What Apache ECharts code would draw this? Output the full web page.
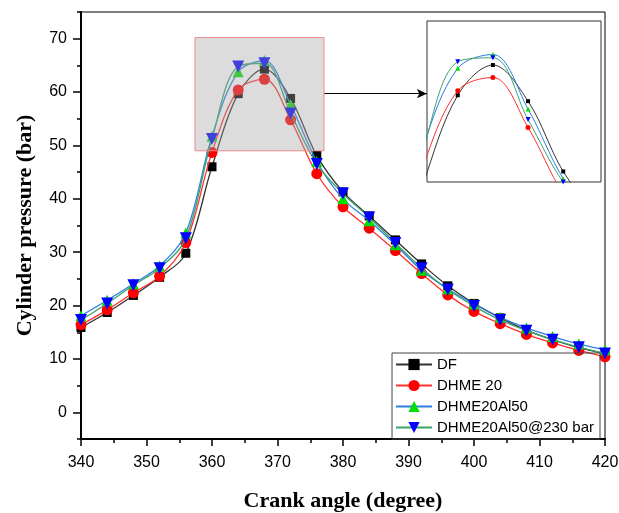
<!DOCTYPE html>
<html>
<head>
<meta charset="utf-8">
<script src="https://cdn.jsdelivr.net/npm/echarts@6/dist/echarts.min.js"></script>
<style>
  html, body { margin: 0; padding: 0; background: #fff; }
  #chart { width: 619px; height: 513px; }
</style>
</head>
<body>
<div id="chart"></div>
<script>
// Crank angle (degree) at which each pressure sample is marked
const crankAngle = [340, 344, 348, 352, 356, 360, 364, 368, 372, 376, 380,
                    384, 388, 392, 396, 400, 404, 408, 412, 416, 420];

// Cylinder pressure (bar) for each fuel
const pressureDF = [15.9, 18.7, 21.9, 25.3, 29.8, 46.0, 59.7, 64.3, 58.8, 48.1, 41.3,
                    36.8, 32.3, 27.8, 23.7, 20.4, 17.7, 15.4, 13.6, 12.1, 11.0];
const pressureDHME20 = [16.4, 19.2, 22.4, 25.5, 31.8, 48.7, 60.4, 62.4, 54.8, 44.7, 38.5,
                        34.5, 30.3, 26.0, 22.0, 18.9, 16.6, 14.6, 13.0, 11.6, 10.4];
const pressureAl50 = [18.1, 21.0, 24.1, 27.4, 33.6, 51.7, 63.8, 65.9, 57.6, 47.0, 40.0,
                      35.9, 31.4, 26.6, 23.1, 20.3, 17.8, 15.8, 14.2, 12.8, 11.7];
const pressureAl50At230 = [17.3, 20.4, 23.8, 27.0, 32.6, 51.2, 64.8, 65.4, 56.0, 46.5, 41.0,
                           36.5, 31.7, 27.0, 23.0, 19.9, 17.3, 15.3, 13.6, 12.2, 11.0];

const seriesNames = ['DF', 'DHME 20', 'DHME20Al50', 'DHME20Al50@230 bar'];

// y-axis labelled ticks and the in-between ticks
const yMajorTicks = [0, 10, 20, 30, 40, 50, 60, 70];
const yMinorTicks = [-5, 5, 15, 25, 35, 45, 55, 65, 75];

const pairs = arr => crankAngle.map((a, i) => [a, arr[i]]);

const DOWN_TRIANGLE = 'path://M0,0 L10,0 L5,9 Z';

const styles = [
  { line: '#333333', mark: '#000000', symbol: 'rect',     size: 9,  inset: 4 },
  { line: '#ff3030', mark: '#ff0000', symbol: 'circle',   size: 11, inset: 5 },
  { line: '#2c7fe0', mark: '#00e000', symbol: 'triangle', size: 11, inset: 5 },
  { line: '#3ba26c', mark: '#0000ff', symbol: DOWN_TRIANGLE, size: 12, inset: 5 }
];
const values = [pressureDF, pressureDHME20, pressureAl50, pressureAl50At230];

const mainSeries = values.map((v, i) => ({
  name: seriesNames[i],
  type: 'line',
  xAxisIndex: 0,
  yAxisIndex: 0,
  data: pairs(v),
  smooth: 0.35,
  symbol: styles[i].symbol,
  symbolSize: styles[i].size,
  showAllSymbol: true,
  lineStyle: { color: styles[i].line, width: 1.3 },
  itemStyle: { color: styles[i].mark, borderWidth: 0 },
  color: styles[i].line,
  z: 2 + i * 0.1,
  animation: false
}));

const insetSeries = values.map((v, i) => ({
  name: seriesNames[i],
  type: 'line',
  xAxisIndex: 1,
  yAxisIndex: 2,
  data: pairs(v),
  smooth: 0.35,
  clip: true,
  symbol: styles[i].symbol,
  symbolSize: styles[i].inset,
  showAllSymbol: true,
  lineStyle: { color: styles[i].line, width: 1 },
  itemStyle: { color: styles[i].mark, borderWidth: 0 },
  z: 6,
  animation: false
}));

// arrow from the zoom window to the enlarged view
mainSeries[0].markLine = {
  silent: true,
  symbol: ['none', 'arrow'],
  symbolSize: [7, 10],
  label: { show: false },
  lineStyle: { color: '#000', width: 1, type: 'solid' },
  data: [[{ coord: [377.1, 59.7] }, { coord: [392.8, 59.7] }]],
  animation: false
};

// translucent window laid over the peak region
const zoomWindow = {
  type: 'custom',
  xAxisIndex: 0,
  yAxisIndex: 0,
  silent: true,
  z: 5,
  data: [[357.4, 49.0, 377.1, 70.2]],
  renderItem: (params, api) => {
    const p0 = api.coord([api.value(0), api.value(3)]);
    const p1 = api.coord([api.value(2), api.value(1)]);
    return {
      type: 'rect',
      shape: { x: p0[0], y: p0[1], width: p1[0] - p0[0], height: p1[1] - p0[1] },
      style: { fill: 'rgba(165,165,165,0.39)', stroke: '#f08a8a', lineWidth: 1 }
    };
  },
  animation: false
};

const sans = "'Liberation Sans', Arial, sans-serif";
const serif = "'Liberation Serif', 'Times New Roman', serif";

const chart = echarts.init(document.getElementById('chart'), null, { renderer: 'canvas' });
chart.setOption({
  backgroundColor: '#fff',
  animation: false,
  grid: [
    { left: 81, right: 14, top: 12, bottom: 74, outerBoundsMode: 'none', containLabel: false,
      show: true, borderColor: '#000', borderWidth: 1, backgroundColor: 'transparent' },
    { left: 427, top: 21, width: 174, height: 161, outerBoundsMode: 'none', containLabel: false,
      show: true, borderColor: '#333', borderWidth: 1, backgroundColor: '#fff', z: 4 }
  ],
  xAxis: [
    {
      type: 'value', gridIndex: 0, min: 340, max: 420, interval: 10,
      name: 'Crank angle (degree)', nameLocation: 'middle', nameGap: 51,
      nameTextStyle: { fontFamily: serif, fontWeight: 'bold', fontSize: 22, color: '#000' },
      axisLine: { show: true, onZero: false, lineStyle: { color: '#000', width: 2 } },
      axisTick: { show: true, inside: false, length: 7, lineStyle: { color: '#000', width: 1.5 } },
      minorTick: { show: true, splitNumber: 2, length: 4, lineStyle: { color: '#000', width: 1.5 } },
      axisLabel: { margin: 16, fontFamily: sans, fontSize: 16, color: '#000' },
      splitLine: { show: false }
    },
    {
      type: 'value', gridIndex: 1, min: 360.5, max: 380.3, show: false,
      splitLine: { show: false }
    }
  ],
  yAxis: [
    {
      type: 'value', gridIndex: 0, min: -5, max: 75,
      name: 'Cylinder pressure (bar)', nameLocation: 'middle', nameGap: 45, nameRotate: 90,
      nameTextStyle: { fontFamily: serif, fontWeight: 'bold', fontSize: 22, color: '#000' },
      axisLine: { show: true, onZero: false, lineStyle: { color: '#000', width: 2 } },
      axisTick: { show: true, customValues: yMajorTicks, length: 8, lineStyle: { color: '#000', width: 1.5 } },
      axisLabel: { customValues: yMajorTicks, margin: 14, fontFamily: sans, fontSize: 16, color: '#000' },
      splitLine: { show: false }
    },
    {
      type: 'value', gridIndex: 0, min: -5, max: 75, position: 'left',
      axisLine: { show: false },
      axisTick: { show: true, customValues: yMinorTicks, length: 4, lineStyle: { color: '#000', width: 1.5 } },
      axisLabel: { show: false },
      splitLine: { show: false }
    },
    {
      type: 'value', gridIndex: 1, min: 46.5, max: 71, show: false,
      splitLine: { show: false }
    }
  ],
  legend: {
    data: seriesNames,
    orient: 'vertical',
    right: 19,
    top: 353,
    padding: [4, 6, 4, 3],
    itemGap: 6,
    itemWidth: 36,
    itemHeight: 14,
    itemTextGap: 3,
    borderColor: '#444',
    borderWidth: 1,
    backgroundColor: 'transparent',
    textStyle: { fontFamily: sans, fontSize: 15, color: '#000' }
  },
  series: [...mainSeries, zoomWindow, ...insetSeries]
});
</script>
</body>
</html>
